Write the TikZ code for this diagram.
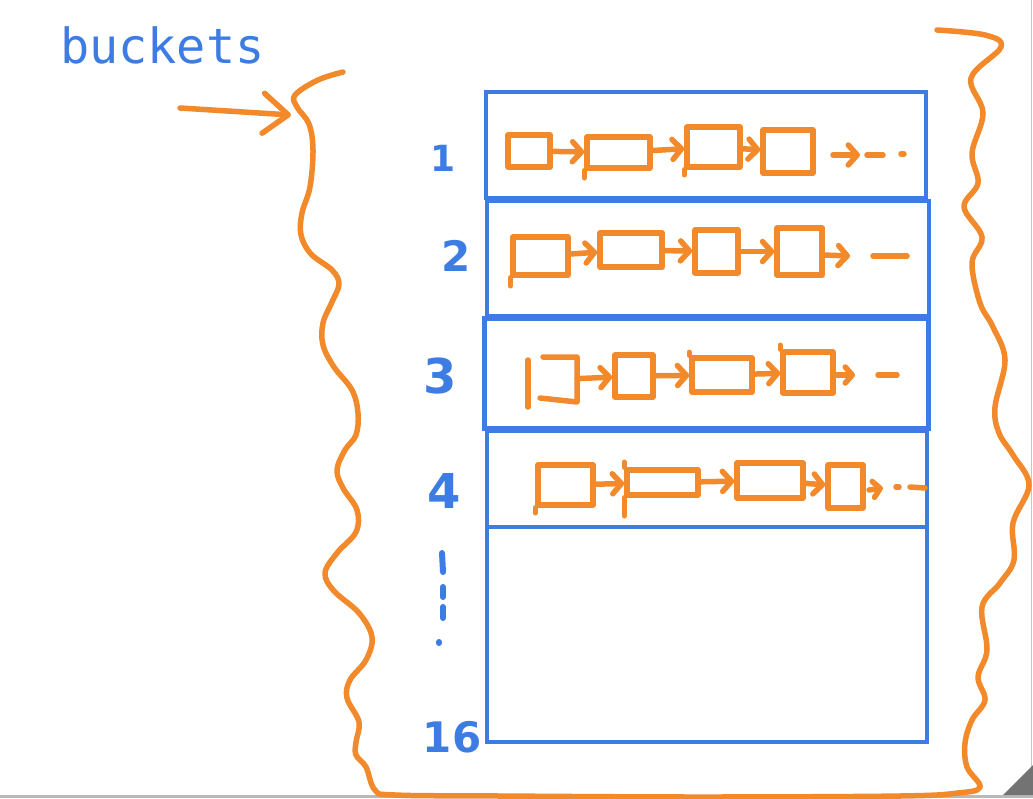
\documentclass[tikz,border=0pt]{standalone}
\usepackage{fontspec}
\usetikzlibrary{arrows.meta}
\newfontfamily\labelfont{DejaVu Sans Mono}
\newfontfamily\numfont{DejaVu Sans}
\definecolor{inkblue}{HTML}{3D7DE3}
\definecolor{inkorange}{HTML}{F28A2B}
\tikzset{
  pen/.style={draw=inkorange, line width=5.5pt, line cap=round, line join=round},
  cell/.style={pen, rectangle, inner sep=0pt},
  ghost/.style={rectangle, inner sep=0pt},
  link/.style={pen, -{Straight Barb[length=9pt,width=20pt,line cap=round,line join=round]}},
  tail/.style={pen, -{Straight Barb[length=7pt,width=16pt,line cap=round,line join=round]}},
  bucket/.style={draw=inkblue, line width=4pt, rectangle, inner sep=0pt},
  num/.style={text=inkblue, inner sep=0pt, font=\numfont\bfseries\fontsize{42}{44}\selectfont},
  bluepen/.style={draw=inkblue, line width=6pt, line cap=round},
}
\begin{document}
\begin{tikzpicture}[x=1pt,y=-1pt]
\useasboundingbox (0,0) rectangle (1033,798);
\fill[white] (0,0) rectangle (1033,798);

% frame of the window
\fill[gray!55] (0,795) rectangle (1033,798);
\draw[gray!45, line width=1.5pt] (1031.5,0) -- (1031.5,795);
\fill[gray!110] (1003,795) -- (1033,765) -- (1033,795) -- cycle;

% title
\node[anchor=base west, inner sep=0pt, text=inkblue, font=\labelfont\fontsize{48.5}{50}\selectfont] (title) at (60,63) {buckets};

% outer wavy bag
\draw[pen] plot[smooth, tension=0.6] coordinates {
 (343,72) (318,80) (295,95) (297,107) (309,124) (313,150) (310,187) (302,213) (301,235)
 (311,254) (332,270) (339,284) (332,302) (323,323) (323,345) (334,367) (352,390) (358,413)
 (356,435) (345,450) (337,470) (343,488) (357,510) (356,532) (337,553) (325,573) (334,591)
 (359,613) (372,637) (366,660) (350,680) (347,698) (359,722) (356,742) (356,755) (366,767)
 (375,790) (395,795) (500,796) (700,797) (900,796) (958,793) (980,787)
 (967,767) (965,743) (972,720) (985,700) (978,677) (987,650) (982,607) (1000,583)
 (1014,560) (1013,523) (1029,485) (1013,455) (999,433) (995,407) (1005,360) (993,327)
 (980,303) (972,263) (982,237) (964,207) (978,183) (972,153) (983,113) (971,78)
 (1001,47) (985,35) (937,30)};

% entry arrow
\coordinate (inA) at (180,108);
\coordinate (inB) at (291,115);
\draw[pen, -{Straight Barb[length=25pt,width=40pt,line cap=round,line join=round]}] (inA) -- (inB);

% buckets
\node[bucket, minimum width=440pt, minimum height=106pt] (b1) at (706,145) {};
\node[bucket, minimum width=442pt, minimum height=115pt] (b2) at (708,258.5) {};
\node[bucket, line width=5pt, minimum width=444pt, minimum height=110pt] (b3) at (706,373) {};
\node[bucket, minimum width=440pt, minimum height=96pt] (b4) at (707,479) {};
\node[bucket, minimum width=440pt, minimum height=215pt] (b5) at (707,634.5) {};

% index labels
\node[num, font=\numfont\bfseries\fontsize{36}{38}\selectfont] (n1) at (443,158) {1};
\node[num] (n2) at (456,256) {2};
\node[num, font=\numfont\bfseries\fontsize{48}{50}\selectfont] (n3) at (440,376) {3};
\node[num, font=\numfont\bfseries\fontsize{48}{50}\selectfont] (n4) at (444,491) {4};
\node[num, font=\numfont\bfseries\fontsize{42}{44}\selectfont] (n16) at (452,737) {16};
% vertical ellipsis strokes
\draw[bluepen] (442,553) -- (443,572);
\draw[bluepen] (443,587) -- (443,597);
\draw[bluepen] (443,607) -- (443,618);
\draw[bluepen] (439,642) -- (439,643);

% row 1
\node[cell, minimum width=42pt, minimum height=32pt] (r1a) at (529,151) {};
\node[cell, minimum width=63pt, minimum height=31pt] (r1b) at (618.5,152.5) {};
\node[cell, minimum width=53pt, minimum height=40pt] (r1c) at (713.5,147) {};
\node[cell, minimum width=50pt, minimum height=43pt] (r1d) at (788,151.5) {};
\draw[link] (r1a) -- (r1b);
\draw[link] (r1b) -- (r1c);
\draw[link] (r1c) -- (r1d);
\draw[pen] (r1b.south west) -- ++(0,7);
\draw[pen] (r1c.south west) -- ++(0,5);
\coordinate (t1a) at (833,155); \coordinate (t1b) at (860,155);
\draw[link] (t1a) -- (t1b);
\draw[pen] (867,155) -- (883,155);
\draw[pen] (901,154) -- (904,154);

% row 2
\node[cell, minimum width=55pt, minimum height=38pt] (r2a) at (540.5,256) {};
\node[cell, minimum width=62pt, minimum height=34pt] (r2b) at (631,250) {};
\node[cell, minimum width=43pt, minimum height=43pt] (r2c) at (716.5,251.5) {};
\node[cell, minimum width=45pt, minimum height=47pt] (r2d) at (799.5,251.5) {};
\draw[pen] (r2a.south west) -- ++(0,8);
\draw[link] (r2a) -- (r2b);
\draw[link] (r2b) -- (r2c);
\draw[link] (r2c) -- (r2d);
\coordinate (t2a) at (823,255); \coordinate (t2b) at (850,256);
\draw[link] (t2a) -- (t2b);
\draw[pen] (873,256) -- (907,256);

% row 3
\node[ghost, minimum width=34pt, minimum height=45pt] (r3a) at (560,379.5) {};
\draw[pen] (528,360) -- (528,407);
\draw[pen] (543,357) -- (577,357) -- (577,402) -- (540,398);
\node[cell, minimum width=38pt, minimum height=42pt] (r3b) at (634,376) {};
\node[cell, minimum width=60pt, minimum height=34pt] (r3c) at (722,375) {};
\node[cell, minimum width=50pt, minimum height=41pt] (r3d) at (808,372.5) {};
\draw[link] (r3a) -- (r3b);
\draw[link] (r3b) -- (r3c);
\draw[link] (r3c) -- (r3d);
\draw[pen] (r3c.north west) -- ++(0,-3);
\draw[pen] (r3d.north west) -- ++(0,-4);
\coordinate (t3a) at (837,375); \coordinate (t3b) at (855,375);
\draw[tail] (t3a) -- (t3b);
\draw[pen] (878,375) -- (897,375);

% row 4
\node[cell, minimum width=55pt, minimum height=40pt] (r4a) at (565.5,485) {};
\node[cell, minimum width=71pt, minimum height=25pt] (r4b) at (662.5,482.5) {};
\node[cell, minimum width=66pt, minimum height=35pt] (r4c) at (770,480.5) {};
\node[cell, minimum width=35pt, minimum height=43pt] (r4d) at (845.5,486.5) {};
\draw[pen] (r4b.north west) -- ++(0,-5);
\draw[pen] (r4b.south west) -- ++(0,18);
\draw[pen] (r4a.south west) -- ++(0,5);
\draw[link] (r4a) -- (r4b);
\draw[link] (r4b) -- (r4c);
\draw[link] (r4c) -- (r4d);
\coordinate (t4a) at (869,490); \coordinate (t4b) at (883,488);
\draw[tail] (t4a) -- (t4b);
\draw[pen] (896,487) -- (899,487);
\draw[pen] (910,487) -- (925,488);
\end{tikzpicture}
\end{document}
